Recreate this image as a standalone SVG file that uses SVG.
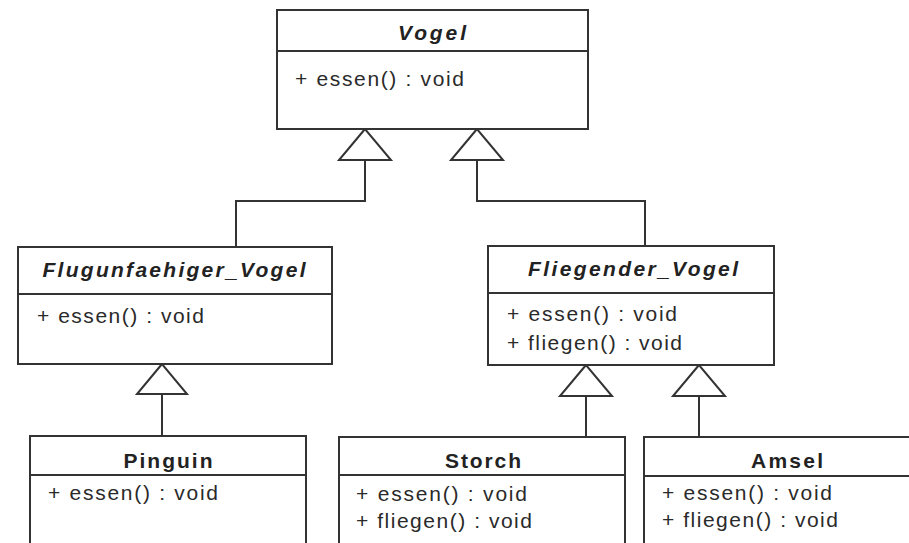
<svg xmlns="http://www.w3.org/2000/svg" width="909" height="543" viewBox="0 0 909 543">
  <style>
    .box { fill: #ffffff; stroke: #333333; stroke-width: 2; }
    .sep { stroke: #333333; stroke-width: 2; }
    .title { font-family: "Liberation Sans", Arial, sans-serif; font-size: 21px; font-weight: bold; fill: #222222; text-anchor: middle; }
    .abstract { font-style: italic; }
    .member { font-family: "Liberation Sans", Arial, sans-serif; font-size: 21px; fill: #2a2a2a; }
    .edge { fill: none; stroke: #333333; stroke-width: 2; }
    .gen { fill: #ffffff; stroke: #333333; stroke-width: 2; stroke-linejoin: miter; }
  </style>
  <rect width="909" height="543" fill="#ffffff"/>

  <!-- generalization connectors -->
  <g id="connectors">
    <polyline class="edge" points="365,160 365,201 236,201 236,247"/>
    <polygon class="gen" points="365,129 339,160 391,160"/>
    <polyline class="edge" points="477,160 477,201 645,201 645,246"/>
    <polygon class="gen" points="477,129 451,160 503,160"/>
    <line class="edge" x1="162" y1="394" x2="162" y2="436"/>
    <polygon class="gen" points="162,364 137,394 187,394"/>
    <line class="edge" x1="586" y1="396" x2="586" y2="437"/>
    <polygon class="gen" points="586,365 560,396 612,396"/>
    <line class="edge" x1="699" y1="396" x2="699" y2="437"/>
    <polygon class="gen" points="699,365 673,396 725,396"/>
  </g>

  <g id="Vogel">
    <rect class="box" x="277" y="10" width="311" height="119"/>
    <line class="sep" x1="277" y1="51" x2="588" y2="51"/>
    <text class="title abstract" x="432" y="40" textLength="68" lengthAdjust="spacing">Vogel</text>
    <text class="member" x="295" y="86" textLength="169" lengthAdjust="spacing">+ essen() : void</text>
  </g>

  <g id="Flugunfaehiger_Vogel">
    <rect class="box" x="18" y="247" width="314" height="117"/>
    <line class="sep" x1="18" y1="294" x2="332" y2="294"/>
    <text class="title abstract" x="174" y="277" textLength="263" lengthAdjust="spacing">Flugunfaehiger_Vogel</text>
    <text class="member" x="37" y="323" textLength="167" lengthAdjust="spacing">+ essen() : void</text>
  </g>

  <g id="Fliegender_Vogel">
    <rect class="box" x="488" y="246" width="286" height="119"/>
    <line class="sep" x1="488" y1="293" x2="774" y2="293"/>
    <text class="title abstract" x="633" y="276" textLength="210" lengthAdjust="spacing">Fliegender_Vogel</text>
    <text class="member" x="507" y="321" textLength="170" lengthAdjust="spacing">+ essen() : void</text>
    <text class="member" x="507" y="350" textLength="175" lengthAdjust="spacing">+ fliegen() : void</text>
  </g>

  <g id="Pinguin">
    <rect class="box" x="30" y="436" width="276" height="130"/>
    <line class="sep" x1="30" y1="475" x2="306" y2="475"/>
    <text class="title" x="168" y="468" textLength="89" lengthAdjust="spacing">Pinguin</text>
    <text class="member" x="48" y="500" textLength="170" lengthAdjust="spacing">+ essen() : void</text>
  </g>

  <g id="Storch">
    <rect class="box" x="339" y="437" width="286" height="130"/>
    <line class="sep" x1="339" y1="475" x2="625" y2="475"/>
    <text class="title" x="483" y="468" textLength="76" lengthAdjust="spacing">Storch</text>
    <text class="member" x="356" y="501" textLength="171" lengthAdjust="spacing">+ essen() : void</text>
    <text class="member" x="356" y="528" textLength="176" lengthAdjust="spacing">+ fliegen() : void</text>
  </g>

  <g id="Amsel">
    <rect class="box" x="644" y="437" width="290" height="130"/>
    <line class="sep" x1="644" y1="476" x2="934" y2="476"/>
    <text class="title" x="787" y="468" textLength="72" lengthAdjust="spacing">Amsel</text>
    <text class="member" x="662" y="500" textLength="170" lengthAdjust="spacing">+ essen() : void</text>
    <text class="member" x="662" y="527" textLength="176" lengthAdjust="spacing">+ fliegen() : void</text>
  </g>
</svg>
